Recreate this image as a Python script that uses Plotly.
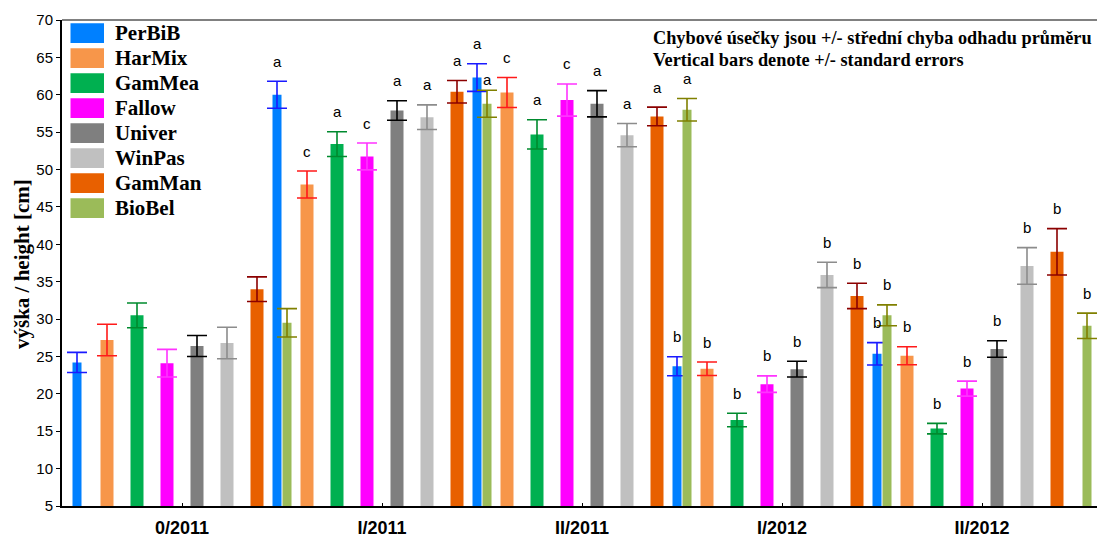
import plotly.graph_objects as go

# ---- data ---------------------------------------------------------------
groups = ["0/2011", "I/2011", "II/2011", "I/2012", "II/2012"]
series = ["PerBiB", "HarMix", "GamMea", "Fallow", "Univer", "WinPas", "GamMan", "BioBel"]

perbib_mean = [24.2, 60.0, 62.3, 23.7, 25.35]
perbib_se = [1.35, 1.8, 1.85, 1.27, 1.5]
harmix_mean = [27.2, 48.0, 60.3, 23.35, 25.1]
harmix_se = [2.1, 1.8, 2.0, 0.9, 1.2]
gammea_mean = [30.5, 53.4, 54.7, 16.5, 15.35]
gammea_se = [1.65, 1.65, 1.95, 0.9, 0.7]
fallow_mean = [24.1, 51.75, 59.3, 21.3, 20.7]
fallow_se = [1.85, 1.8, 2.15, 1.1, 1.0]
univer_mean = [26.4, 57.9, 58.8, 23.3, 26.0]
univer_se = [1.4, 1.3, 1.75, 1.05, 1.1]
winpas_mean = [26.8, 57.0, 54.6, 35.9, 37.1]
winpas_se = [2.1, 1.65, 1.55, 1.7, 2.45]
gamman_mean = [34.0, 60.4, 57.1, 33.1, 39.0]
gamman_se = [1.65, 1.5, 1.25, 1.7, 3.1]
biobel_mean = [29.5, 58.8, 58.0, 30.5, 29.1]
biobel_se = [1.9, 1.8, 1.5, 1.4, 1.7]

# homogeneous-group letters shown above the bars
perbib_letters = ["", "a", "a", "b", "b"]
harmix_letters = ["", "c", "c", "b", "b"]
gammea_letters = ["", "a", "a", "b", "b"]
fallow_letters = ["", "c", "c", "b", "b"]
univer_letters = ["", "a", "a", "b", "b"]
winpas_letters = ["", "a", "a", "b", "b"]
gamman_letters = ["", "a", "a", "b", "b"]
biobel_letters = ["", "a", "a", "b", "b"]

y_ticks = [5, 10, 15, 20, 25, 30, 35, 40, 45, 50, 55, 60, 65, 70]

means = [perbib_mean, harmix_mean, gammea_mean, fallow_mean,
         univer_mean, winpas_mean, gamman_mean, biobel_mean]
errors = [perbib_se, harmix_se, gammea_se, fallow_se,
          univer_se, winpas_se, gamman_se, biobel_se]
letters = [perbib_letters, harmix_letters, gammea_letters, fallow_letters,
           univer_letters, winpas_letters, gamman_letters, biobel_letters]

# ---- styling ------------------------------------------------------------
fill_colors = ["#0080ff", "#f7964a", "#00b050", "#ff00ff",
               "#7f7f7f", "#c0c0c0", "#e86000", "#9bbb59"]
err_colors = ["#1a1aff", "#ff1a1a", "#008a2e", "#ff33ff",
              "#000000", "#8c8c8c", "#8b0000", "#808000"]
bar_widths = [0.045, 0.065, 0.065, 0.065, 0.065, 0.065, 0.065, 0.045]

W, H = 1097, 538
ML, MR, MT, MB = 62, 0, 20, 28
plot_w = W - ML - MR
plot_h = H - MT - MB
px_per_group = 200.0
x_lo = -120.0 / px_per_group
x_hi = x_lo + plot_w / px_per_group
step = 0.15  # spacing between neighbouring series within a group


def px_x(px):
    return (px - ML) / plot_w


def px_y(py):
    return (H - MB - py) / plot_h


fig = go.Figure()

annotations = []
for i, name in enumerate(series):
    xs = [g + (i - 3.5) * step for g in range(len(groups))]
    fig.add_trace(go.Bar(
        x=xs, y=means[i], base=0, name=name,
        width=bar_widths[i],
        marker=dict(color=fill_colors[i], line=dict(width=0)),
        error_y=dict(type="data", array=errors[i], visible=True,
                     color=err_colors[i], thickness=1.6, width=10),
        showlegend=False,
    ))
    for g, lab in enumerate(letters[i]):
        if not lab:
            continue
        shift = 20
        if name == "BioBel" and g == 1:
            shift = 11
        annotations.append(dict(
            x=xs[g], y=means[i][g] + errors[i][g], xref="x", yref="y",
            text=lab, showarrow=False, yanchor="middle", yshift=shift,
            font=dict(family="Liberation Sans, Arial", size=15, color="black"),
        ))

# legend block in the upper-left corner
shapes = []
for i, name in enumerate(series):
    cy = 33.3 + 25.2 * i
    shapes.append(dict(
        type="rect", xref="paper", yref="paper",
        x0=px_x(70.5), x1=px_x(104), y0=px_y(cy + 10), y1=px_y(cy - 10),
        fillcolor=fill_colors[i], line=dict(width=0), layer="above",
    ))
    annotations.append(dict(
        x=px_x(113), y=px_y(cy), xref="paper", yref="paper",
        text="<b>%s</b>" % name, showarrow=False,
        xanchor="left", yanchor="middle",
        font=dict(family="Liberation Serif", size=21, color="black"),
    ))

# top frame line
shapes.append(dict(type="line", xref="paper", yref="paper",
                   x0=0, x1=1, y0=1, y1=1,
                   line=dict(color="#808080", width=2)))

# note about the error bars
annotations.append(dict(
    x=px_x(651), y=px_y(38.6), xref="paper", yref="paper",
    text="<b>Chybové úsečky jsou +/- střední chyba odhadu průměru</b>",
    showarrow=False, xanchor="left", yanchor="middle",
    font=dict(family="Liberation Serif", size=18.3, color="black"),
))
annotations.append(dict(
    x=px_x(651), y=px_y(60.3), xref="paper", yref="paper",
    text="<b>Vertical bars denote +/- standard errors</b>",
    showarrow=False, xanchor="left", yanchor="middle",
    font=dict(family="Liberation Serif", size=18.3, color="black"),
))

# y-axis title
annotations.append(dict(
    x=px_x(22), y=px_y(266), xref="paper", yref="paper",
    text="<b>výška / height [cm]</b>", textangle=-90,
    showarrow=False, xanchor="center", yanchor="middle",
    font=dict(family="Liberation Serif", size=21, color="black"),
))

fig.update_layout(
    width=W, height=H,
    margin=dict(l=ML, r=MR, t=MT, b=MB, pad=0),
    paper_bgcolor="white", plot_bgcolor="white",
    barmode="overlay",
    annotations=annotations,
    shapes=shapes,
    xaxis=dict(
        range=[x_lo, x_hi], tickmode="array",
        tickvals=list(range(len(groups))),
        ticktext=["<b>%s</b>" % g for g in groups],
        ticks="inside", ticklen=3, tickcolor="black", tickwidth=1,
        ticklabelstandoff=4,
        showline=True, linecolor="black", linewidth=2,
        showgrid=False, zeroline=False,
        tickfont=dict(family="Liberation Sans, Arial", size=18, color="black"),
    ),
    yaxis=dict(
        range=[5, 70], tickmode="array", tickvals=y_ticks,
        ticks="outside", ticklen=4, tickcolor="black", tickwidth=1,
        showline=True, linecolor="black", linewidth=2,
        showgrid=False, zeroline=False,
        tickfont=dict(family="Liberation Sans, Arial", size=15, color="black"),
    ),
)

fig.write_html("out.html")
